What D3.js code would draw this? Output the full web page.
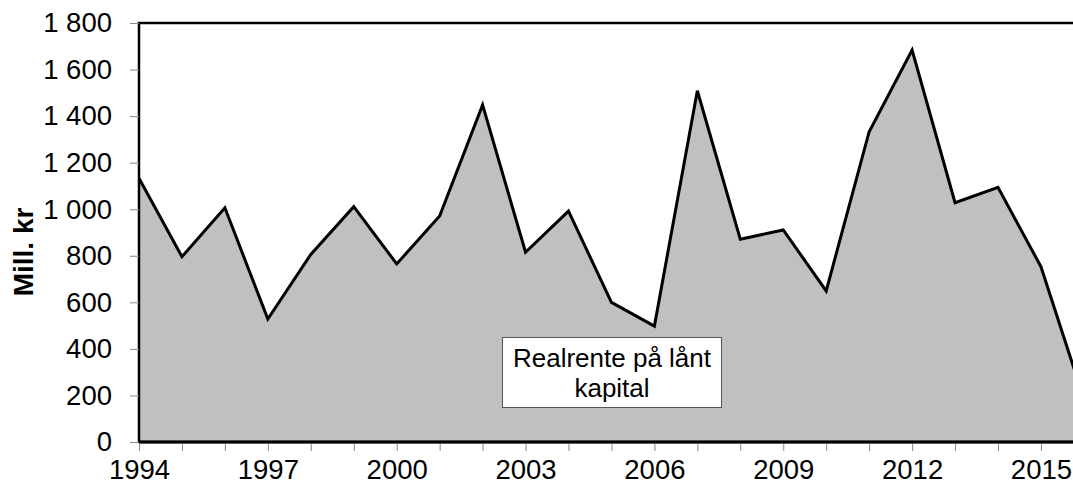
<!DOCTYPE html>
<html>
<head>
<meta charset="utf-8">
<script src="https://cdn.jsdelivr.net/npm/d3@7"></script>
<style>
	body{margin:0;background:#fff;}
	#canvas{width:1073px;height:490px;}
	text{font-family:"Liberation Sans",Arial,sans-serif;fill:#000;}
</style>
</head>
<body>
<div id="canvas"></div>
<script>
// data
var years = [1994,1995,1996,1997,1998,1999,2000,2001,2002,2003,2004,2005,2006,2007,2008,2009,2010,2011,2012,2013,2014,2015,2016];
var values = [1133,796,1006,528,806,1011,765,971,1448,815,992,600,498,1509,871,911,649,1333,1684,1028,1094,753,185];
var yTicks = [0,200,400,600,800,1000,1200,1400,1600,1800];
var xLabelYears = [1994,1997,2000,2003,2006,2009,2012,2015];
var yTitle = "Mill. kr";
var boxLines = ["Realrente på lånt","kapital"];

var width = 1073;
var height = 490;

// "top" is taken by window.top, so own names
var plotLeft = 139, plotTop = 23, plotBottom = 442;
var step = 42.95;

var init = function(){
	var svg = d3.select("#canvas").append("svg");
	svg.attr("width",width);
	svg.attr("height",height);
	svg.attr("id","svg");

	var x = d3.scaleLinear()
		.domain([years[0],years[years.length-1]])
		.range([plotLeft,plotLeft+step*(years.length-1)]);
	var y = d3.scaleLinear().domain([0,1800]).range([plotBottom,plotTop]);

	var pts = years.map(function(d,i){return {year:d,value:values[i]};});

	// area
	var area = d3.area()
		.x(function(d){return x(d.year);})
		.y0(y(0))
		.y1(function(d){return y(d.value);});
	svg.append("path")
		.datum(pts)
		.attr("d",area)
		.attr("fill","#c0c0c0");

	var line = d3.line()
		.x(function(d){return x(d.year);})
		.y(function(d){return y(d.value);});
	svg.append("path")
		.datum(pts)
		.attr("d",line)
		.attr("fill","none")
		.attr("stroke","#000")
		.attr("stroke-width",3)
		.attr("stroke-linejoin","miter");

	// plot frame (top + left)
	svg.append("rect")
		.attr("x",plotLeft)
		.attr("y",plotTop)
		.attr("width",width-plotLeft+10)
		.attr("height",plotBottom-plotTop)
		.attr("fill","none")
		.attr("stroke","#000")
		.attr("stroke-width",2.5);

	// y axis
	var fmt = d3.formatLocale({decimal:",",thousands:"\u00a0",grouping:[3],currency:["","kr"]}).format(",d");
	var yAxis = d3.axisLeft(y).tickValues(yTicks).tickSize(9).tickPadding(18).tickFormat(fmt);
	var gy = svg.append("g").attr("transform","translate("+plotLeft+",0)").call(yAxis);
	gy.select(".domain").remove();
	gy.selectAll(".tick line").attr("stroke","#888").attr("stroke-width",1);
	gy.selectAll(".tick text")
		.attr("font-size","27.5px")
		.attr("font-family","'Liberation Sans',Arial,sans-serif")
		.attr("fill","#000");

	// x axis: ticks every year, labels every third
	var xAxis = d3.axisBottom(x).tickValues(years.slice(0,years.length-1)).tickSize(9).tickPadding(8)
		.tickFormat(function(d){return xLabelYears.indexOf(d)>=0 ? d : "";});
	var gx = svg.append("g").attr("transform","translate(0,"+plotBottom+")").call(xAxis);
	gx.select(".domain").remove();
	gx.selectAll(".tick line").attr("stroke","#888").attr("stroke-width",1);
	gx.selectAll(".tick text")
		.attr("font-size","27.5px")
		.attr("font-family","'Liberation Sans',Arial,sans-serif")
		.attr("fill","#000");

	svg.append("line")
		.attr("x1",plotLeft).attr("x2",width)
		.attr("y1",plotBottom).attr("y2",plotBottom)
		.attr("stroke","#000").attr("stroke-width",3);

	// y title
	svg.append("text")
		.text(yTitle)
		.attr("transform","translate(33,252) rotate(-90)")
		.attr("text-anchor","middle")
		.attr("font-weight","bold")
		.attr("font-size","28px");

	// label box
	var g = svg.append("g").attr("class","label");
	g.append("rect")
		.attr("x",502.5).attr("y",337.5)
		.attr("width",219).attr("height",70)
		.attr("fill","#fff")
		.attr("stroke","#555")
		.attr("stroke-width",1);
	g.selectAll("text.lbl").data(boxLines).enter().append("text")
		.attr("class","lbl")
		.attr("x",612)
		.attr("y",function(d,i){return 367+i*30;})
		.attr("text-anchor","middle")
		.attr("font-size","26px")
		.text(function(d){return d;});
}

init();
</script>
</body>
</html>
